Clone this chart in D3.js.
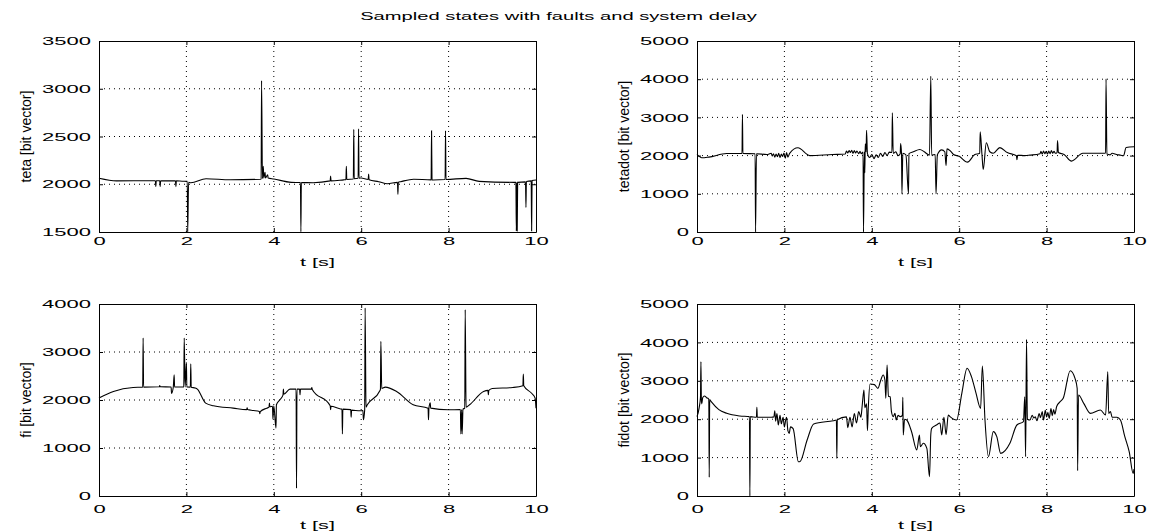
<!DOCTYPE html>
<html>
<head>
<meta charset="utf-8">
<script src="https://cdn.jsdelivr.net/npm/d3@7"></script>
<style>
  body { margin: 0; background: #fff; }
  svg { display: block; }
</style>
</head>
<body>
<svg id="canvas"></svg>
<script>
let width = 1157
let height = 531

let title = 'Sampled states with faults and system delay'
let xLabel = 't [s]'
let xTicks = [0, 2, 4, 6, 8, 10]

// [t, value] samples
let tetaData = [[0,2062],[0.4,2035],[1.2,2037],[1.29,2037],[1.30,1975],[1.31,2037],[1.39,2037],[1.40,1975],[1.41,2037],[1.75,2035],[1.76,1975],[1.77,2035],[1.9,2032],[2.02,2030],[2.03,1503],[2.05,2020],[2.1,2016],[2.45,2058],[3.0,2047],[3.7,2052],[3.71,2055],[3.72,3085],[3.74,2060],[3.76,2187],[3.77,2065],[3.80,2125],[3.81,2065],[3.86,2100],[3.87,2065],[4.0,2055],[4.4,2020],[4.61,2018],[4.62,1503],[4.63,2018],[4.9,2016],[5.29,2035],[5.30,2086],[5.31,2035],[5.6,2046],[5.65,2048],[5.66,2187],[5.67,2050],[5.82,2055],[5.83,2575],[5.84,2058],[5.93,2062],[5.94,2580],[5.95,2064],[6.0,2066],[6.16,2050],[6.17,2107],[6.18,2048],[6.4,2027],[6.6,2005],[6.83,2020],[6.84,1895],[6.85,2022],[6.9,2027],[7.2,2052],[7.6,2046],[7.61,2560],[7.62,2046],[7.65,2045],[7.92,2050],[7.93,2560],[7.94,2050],[8.4,2062],[8.7,2030],[9.5,2020],[9.54,2020],[9.55,1510],[9.56,2020],[9.57,1510],[9.58,2020],[9.76,2025],[9.77,1758],[9.78,2028],[9.89,2035],[9.90,1510],[9.91,2040],[10,2045]]

let tetadotData = [[0,2029],[0.11,1942],[0.27,1960],[0.68,2055],[1.03,2055],[1.04,3076],[1.05,2055],[1.33,2050],[1.34,0],[1.36,2050],[1.6,2029],[1.7,2060],[1.72,1990],[1.75,2050],[1.78,1960],[1.81,2040],[1.84,1970],[1.87,2060],[1.9,1950],[1.93,2040],[1.96,1980],[1.99,2070],[2.02,1930],[2.05,2080],[2.08,1960],[2.12,2060],[2.31,2204],[2.58,2000],[3.1,2029],[3.39,2040],[3.42,2120],[3.45,2070],[3.48,2130],[3.51,2080],[3.54,2140],[3.57,2060],[3.6,2130],[3.63,2070],[3.66,2120],[3.7,2050],[3.73,2110],[3.76,2050],[3.8,2090],[3.81,0],[3.83,2100],[3.84,1550],[3.85,2310],[3.87,2100],[3.88,2665],[3.9,2050],[3.95,1950],[4.0,2030],[4.05,1920],[4.1,2020],[4.15,1950],[4.2,2060],[4.25,1980],[4.3,2080],[4.35,2000],[4.4,2090],[4.46,2080],[4.47,3120],[4.49,2060],[4.55,2100],[4.6,2000],[4.65,2050],[4.66,2317],[4.68,2050],[4.69,1000],[4.71,2060],[4.78,2020],[4.84,1000],[4.85,2050],[4.95,2100],[5.1,2160],[5.2,2100],[5.32,2013],[5.35,4078],[5.37,2013],[5.45,2030],[5.47,1000],[5.5,2020],[5.6,2150],[5.67,2100],[5.70,1740],[5.72,2175],[5.8,2120],[5.87,2030],[6.0,1980],[6.19,1830],[6.35,2020],[6.47,2060],[6.48,2620],[6.52,2040],[6.55,1636],[6.62,2335],[6.7,2100],[6.78,2060],[6.93,2210],[7.1,2080],[7.31,1995],[7.32,1890],[7.34,2010],[7.5,2000],[7.62,2013],[7.85,2050],[7.87,2110],[7.9,2040],[7.93,2120],[7.96,2050],[7.99,2110],[8.02,2040],[8.05,2120],[8.08,2050],[8.11,2130],[8.14,2060],[8.17,2110],[8.2,2060],[8.24,2080],[8.25,2395],[8.27,2080],[8.4,2030],[8.57,1855],[8.83,2060],[9.3,2060],[9.35,2070],[9.36,4010],[9.38,2040],[9.45,2020],[9.5,2060],[9.6,2030],[9.7,2010],[9.76,1995],[9.82,2210],[10,2230]]

let fiData = [[0,2040],[0.33,2177],[0.78,2261],[1.0,2268],[1.01,3292],[1.02,2268],[1.38,2275],[1.39,2300],[1.40,2275],[1.65,2270],[1.66,2136],[1.70,2270],[1.72,2526],[1.73,2270],[1.94,2270],[1.95,3292],[1.97,2270],[2.0,2783],[2.01,2270],[2.09,2268],[2.1,2755],[2.11,2268],[2.2,2250],[2.25,2226],[2.44,1935],[2.62,1880],[3.07,1831],[3.38,1800],[3.39,1840],[3.40,1800],[3.53,1781],[3.67,1760],[3.68,1712],[3.69,1760],[3.84,1830],[3.89,1850],[3.90,1935],[3.91,1860],[3.97,1870],[3.98,1601],[4.0,1880],[4.05,1413],[4.06,1900],[4.14,2004],[4.21,2100],[4.22,2226],[4.23,2120],[4.37,2226],[4.51,2226],[4.52,160],[4.53,2226],[4.59,2226],[4.60,2108],[4.61,2226],[4.86,2226],[4.87,2260],[4.88,2220],[5.29,1879],[5.30,1800],[5.31,1870],[5.51,1816],[5.56,1810],[5.57,1294],[5.58,1810],[5.76,1800],[5.77,1643],[5.78,1790],[5.97,1775],[6.04,1780],[6.05,1587],[6.08,1800],[6.09,3918],[6.11,1850],[6.14,1900],[6.43,2198],[6.44,2220],[6.45,3222],[6.47,2240],[6.55,2268],[6.81,2177],[7.19,1900],[7.53,1830],[7.54,1587],[7.55,1830],[7.58,1944],[7.59,1830],[7.99,1796],[8.27,1800],[8.28,1294],[8.30,1800],[8.31,1294],[8.33,1810],[8.37,1830],[8.38,3883],[8.40,1850],[8.48,1900],[8.8,2177],[8.9,2200],[8.91,2108],[8.92,2200],[9.0,2240],[9.47,2261],[9.70,2296],[9.71,2540],[9.72,2296],[9.9,2140],[9.98,2040],[10,1830]]

let fidotData = [[0,2066],[0.05,2300],[0.08,2586],[0.09,3497],[0.10,2500],[0.11,2400],[0.13,2560],[0.17,2604],[0.22,2560],[0.27,2520],[0.28,487],[0.29,2510],[0.33,2450],[0.5,2250],[0.68,2153],[0.98,2083],[1.20,2066],[1.21,0],[1.22,2066],[1.36,2049],[1.37,2309],[1.38,2049],[1.7,2049],[1.76,2060],[1.78,2222],[1.8,1950],[1.83,2150],[1.86,1850],[1.9,2100],[1.93,1880],[1.97,2050],[2.0,1800],[2.03,1980],[2.05,2050],[2.08,1700],[2.11,1632],[2.14,1800],[2.2,1753],[2.32,893],[2.36,900],[2.52,1458],[2.67,1875],[3.12,1961],[3.19,1978],[3.20,981],[3.21,1985],[3.42,2060],[3.45,1780],[3.5,2050],[3.55,1800],[3.6,2150],[3.65,1900],[3.7,2200],[3.75,2050],[3.78,2350],[3.82,2760],[3.84,2300],[3.88,2400],[3.90,1700],[3.92,2300],[3.96,2917],[4.06,2900],[4.14,2804],[4.2,3000],[4.26,3151],[4.30,3021],[4.32,2544],[4.35,3411],[4.38,2600],[4.42,2586],[4.45,2195],[4.49,2066],[4.53,2153],[4.56,1978],[4.6,2100],[4.65,2066],[4.70,2100],[4.71,2568],[4.72,1589],[4.75,2000],[4.8,1978],[4.91,1674],[5.03,1198],[5.09,1589],[5.11,1285],[5.18,1372],[5.26,1240],[5.32,503],[5.35,1600],[5.37,1762],[5.48,1849],[5.56,1900],[5.6,1589],[5.65,2050],[5.7,1600],[5.75,2109],[5.79,2066],[5.94,1978],[6.06,2674],[6.18,3325],[6.28,3108],[6.38,2700],[6.49,2283],[6.53,3385],[6.59,1978],[6.67,1024],[6.78,1676],[6.86,1545],[6.95,1111],[7.16,1372],[7.32,1849],[7.47,1936],[7.50,2586],[7.52,1024],[7.54,4080],[7.56,2000],[7.62,1978],[7.67,2100],[7.71,2030],[7.74,2060],[7.78,1960],[7.83,2150],[7.86,2040],[7.9,2200],[7.93,1980],[7.97,2230],[8.0,2060],[8.03,2180],[8.06,2020],[8.1,2280],[8.13,2090],[8.16,2250],[8.19,2130],[8.23,2330],[8.31,2456],[8.38,2543],[8.54,3263],[8.65,3065],[8.70,2800],[8.71,659],[8.73,2630],[8.85,2413],[9.0,2153],[9.23,2240],[9.35,2109],[9.40,3237],[9.42,2150],[9.46,2200],[9.5,2050],[9.61,2049],[9.69,1978],[9.79,1545],[9.89,1155],[9.98,590],[10,700]]

let yLabels = ['teta [bit vector]', 'tetadot [bit vector]', 'fi [bit vector]', 'fidot [bit vector]']
let yDomains = [[1500, 3500], [0, 5000], [0, 4000], [0, 5000]]
let yTicks = [
    [1500, 2000, 2500, 3000, 3500],
    [0, 1000, 2000, 3000, 4000, 5000],
    [0, 1000, 2000, 3000, 4000],
    [0, 1000, 2000, 3000, 4000, 5000]
]
let series = [tetaData, tetadotData, fiData, fidotData]

// plot boxes: left, right, top, bottom, tick label offset, xlabel offset
let boxes = [
    {l: 99, r: 536, t: 41, b: 232, tl: 13, xl: 34},
    {l: 697, r: 1134, t: 41, b: 232, tl: 13, xl: 34},
    {l: 99, r: 536, t: 304, b: 496, tl: 17.5, xl: 32.5},
    {l: 697, r: 1134, t: 304, b: 496, tl: 17.5, xl: 32.5}
]

let font = "'Liberation Sans', Arial, Helvetica, sans-serif"
let fontSize = 11.6
let stretch = 1.9   // the figure was printed stretched sideways

let canvas = d3.select('#canvas')
canvas.attr('width', width)
      .attr('height', height)
      .style('background', '#fff')

canvas.append('text')
      .attr('transform', `translate(558.5, 19.5) scale(1.71, 1)`)
      .attr('text-anchor', 'middle')
      .attr('font-family', font)
      .attr('font-size', 11.8)
      .attr('fill', '#000')
      .text(title)

let drawPanel = (i) => {
    let box = boxes[i]

    let xScale = d3.scaleLinear()
                   .domain([0, 10])
                   .range([box.l, box.r])
    let yScale = d3.scaleLinear()
                   .domain(yDomains[i])
                   .range([box.b, box.t])

    let g = canvas.append('g')

    // dotted grid
    g.selectAll('.xgrid')
     .data(xTicks.slice(1, -1))
     .enter()
     .append('line')
     .attr('x1', (d) => xScale(d))
     .attr('x2', (d) => xScale(d))
     .attr('y1', box.t)
     .attr('y2', box.b)
     .attr('stroke', '#000')
     .attr('stroke-width', 1)
     .attr('stroke-dasharray', '1,4')

    g.selectAll('.ygrid')
     .data(yTicks[i].slice(1, -1))
     .enter()
     .append('line')
     .attr('x1', box.l)
     .attr('x2', box.r)
     .attr('y1', (d) => yScale(d))
     .attr('y2', (d) => yScale(d))
     .attr('stroke', '#000')
     .attr('stroke-width', 1)
     .attr('stroke-dasharray', '1,4')

    // the signal
    let line = d3.line()
                 .curve(d3.curveMonotoneX)
                 .x((d) => xScale(d[0]))
                 .y((d) => yScale(d[1]))

    g.append('path')
     .datum(series[i])
     .attr('d', line)
     .attr('fill', 'none')
     .attr('stroke', '#000')
     .attr('stroke-width', 1.1)

    // axes, ticks pointing inward like matlab
    let xAxis = d3.axisBottom(xScale)
                  .tickValues(xTicks)
                  .tickFormat(d3.format('d'))
                  .tickSizeInner(-4)
                  .tickSizeOuter(0)
                  .tickPadding(box.tl)
    let gx = g.append('g')
              .attr('transform', `translate(0, ${box.b})`)
              .call(xAxis)
    gx.selectAll('text')
      .attr('dy', null)
      .attr('y', box.tl)
      .attr('transform', `scale(${stretch}, 1)`)

    let yAxis = d3.axisLeft(yScale)
                  .tickValues(yTicks[i])
                  .tickFormat(d3.format('d'))
                  .tickSizeInner(-4)
                  .tickSizeOuter(0)
                  .tickPadding(8)
    let gy = g.append('g')
              .attr('transform', `translate(${box.l}, 0)`)
              .call(yAxis)
    gy.selectAll('text')
      .attr('x', -8 / stretch)
      .attr('transform', `scale(${stretch}, 1)`)

    let gTop = g.append('g')
                .attr('transform', `translate(0, ${box.t})`)
                .call(d3.axisTop(xScale).tickValues(xTicks).tickSizeInner(-4).tickSizeOuter(0).tickFormat(''))
    let gRight = g.append('g')
                  .attr('transform', `translate(${box.r}, 0)`)
                  .call(d3.axisRight(yScale).tickValues(yTicks[i]).tickSizeInner(-4).tickSizeOuter(0).tickFormat(''))

    g.selectAll('.domain').attr('stroke', '#000').attr('stroke-width', 1)
    g.selectAll('.tick line').attr('stroke', '#000')
    ;[gx, gy, gTop, gRight].forEach((a) => a.attr('font-family', font).attr('font-size', fontSize))
    g.selectAll('.tick text')
     .attr('fill', '#000')

    // labels
    g.append('text')
     .attr('transform', `translate(${(box.l + box.r) / 2}, ${box.b + box.xl}) scale(1.87, 1)`)
     .attr('text-anchor', 'middle')
     .attr('font-family', font)
     .attr('font-size', fontSize)
     .attr('fill', '#000')
     .text(xLabel)

    g.append('text')
     .attr('transform', `translate(${box.l - 68}, ${(box.t + box.b) / 2}) rotate(-90)`)
     .attr('text-anchor', 'middle')
     .attr('font-family', font)
     .attr('font-size', 14)
     .attr('fill', '#000')
     .text(yLabels[i])
}

for (let i = 0; i < 4; i++) {
    drawPanel(i)
}
</script>
</body>
</html>
